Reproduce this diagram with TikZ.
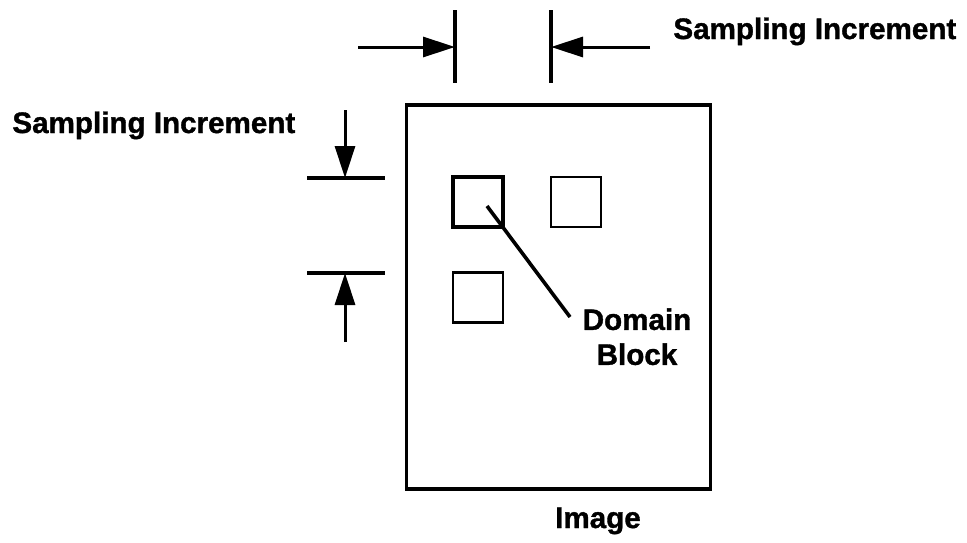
\documentclass[tikz,border=0pt]{standalone}
\usepackage{fontspec}
\setmainfont{Liberation Sans}[BoldFeatures={FakeBold=1.2}]
\usetikzlibrary{arrows.meta, positioning}

\begin{document}
\begin{tikzpicture}[
  x = 0.5pt, y = -0.5pt,
  font = \fontsize{14.8}{17.5}\selectfont\bfseries,
  label/.style = {inner sep=0pt},
  imgbox/.style = {rectangle, draw, line width=1.7pt,
                   minimum width=152pt, minimum height=192pt, inner sep=0pt},
  dblock/.style = {rectangle, draw, line width=1.3pt,
                   minimum size=25pt, inner sep=0pt},
  thickblock/.style = {dblock, line width=2pt},
  tickline/.style = {line width=1.6pt},
  dimarrow/.style = {-{Triangle[length=16pt, width=10pt]}, line width=1.5pt},
  leader/.style = {line width=1.8pt},
]
\useasboundingbox (0,0) rectangle (967,542);

\node[imgbox] (img) at (558.5,297) {};
\node[thickblock] (b1) at (478,202) {};
\node[dblock] (b2) at (576,202) {};
\node[dblock] (b3) at (478,297.5) {};

% horizontal increment
\coordinate (tl) at (455,47);
\coordinate (tr) at (551,47);
\coordinate (al) at (358,47);
\coordinate (ar) at (650,47);
\draw[tickline] (455,10) -- (455,83);
\draw[tickline] (551,10) -- (551,83);
\draw[dimarrow] (al) -- (tl);
\draw[dimarrow] (ar) -- (tr);

% vertical increment
\coordinate (tt) at (345,178);
\coordinate (tb) at (345,273);
\coordinate (at) at (345,110);
\coordinate (ab) at (345,342);
\draw[tickline] (307,178) -- (385,178);
\draw[tickline] (307,273) -- (385,273);
\draw[dimarrow] (at) -- (tt);
\draw[dimarrow] (ab) -- (tb);

\node[label, anchor=base west] (incx) at (673,39) {Sampling Increment};
\node[label, anchor=base west] (incy) at (12,133) {Sampling Increment};
\node[label, align=center, anchor=north] (dom) at (637,308) {Domain\\Block};
\node[label, anchor=base] (imglbl) at (598,528) {Image};

\coordinate (lead) at (487,206);
\coordinate (tip) at (570,317);
\draw[leader] (lead) -- (tip);
\end{tikzpicture}
\end{document}
